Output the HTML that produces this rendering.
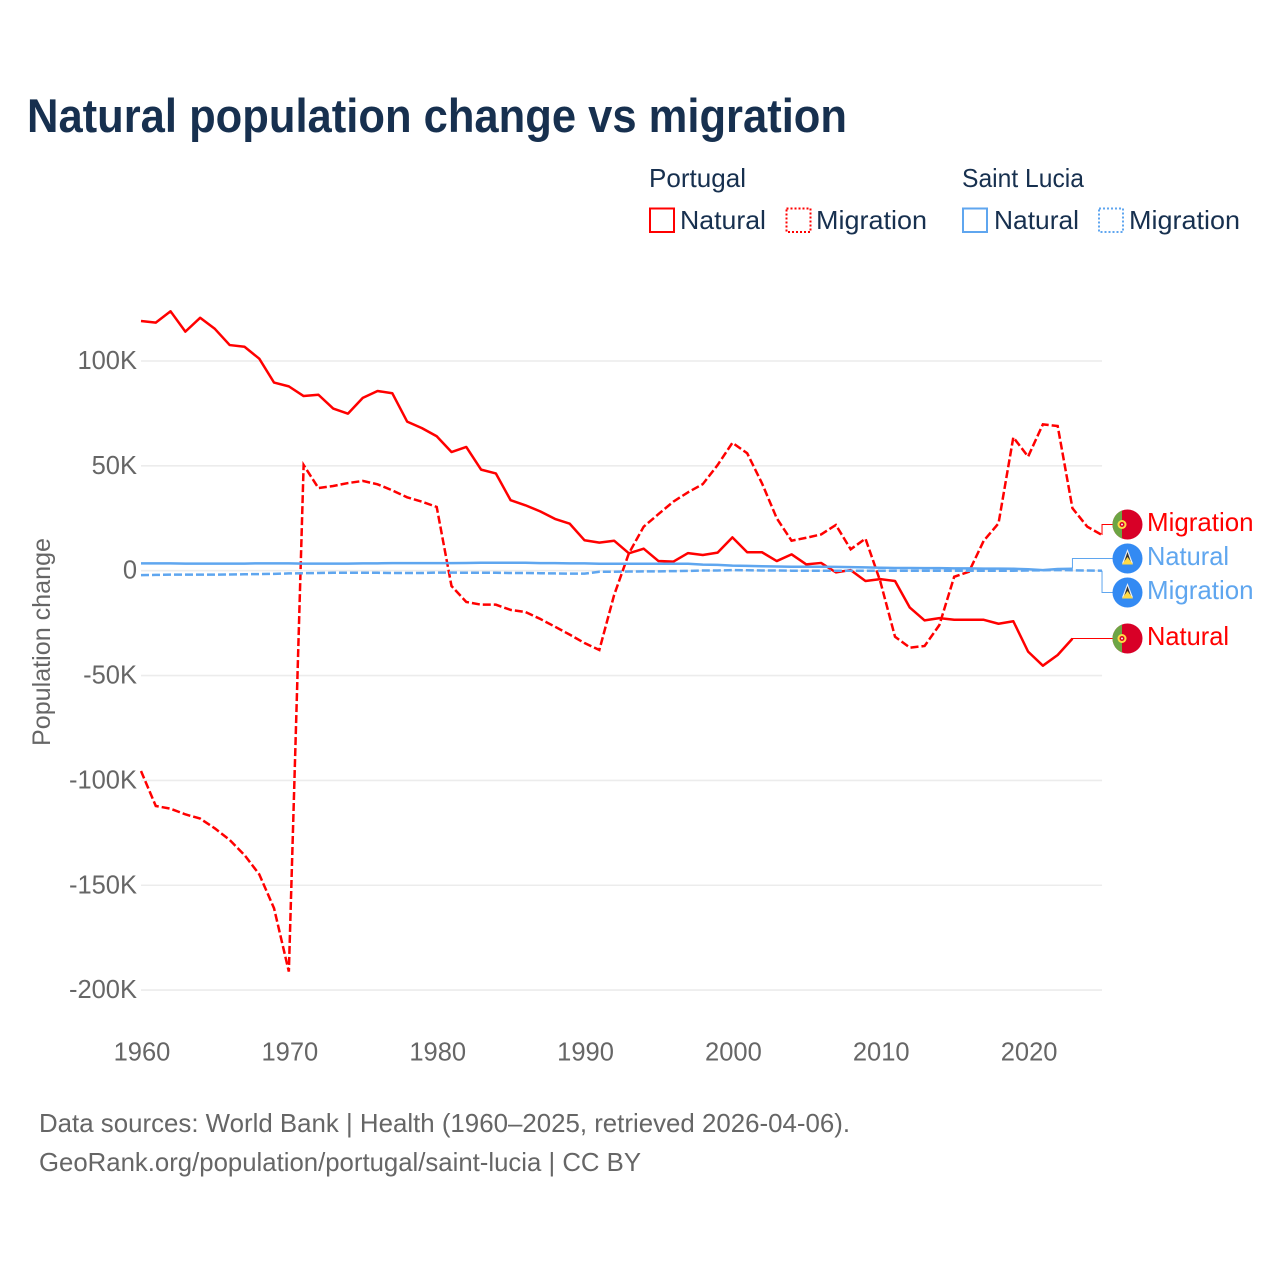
<!DOCTYPE html>
<html lang="en">
<head>
<meta charset="utf-8">
<title>Natural population change vs migration</title>
<style>
html,body{margin:0;padding:0;background:#fff;}
svg{display:block;font-family:"Liberation Sans",sans-serif;}
</style>
</head>
<body>
<svg id="chart" xmlns="http://www.w3.org/2000/svg" width="1280" height="1280" viewBox="0 0 1280 1280">
  <text x="27" y="132" font-size="47" font-weight="700" fill="#17304f" textLength="820" lengthAdjust="spacingAndGlyphs">Natural population change vs migration</text>

  <g font-size="26" fill="#17304f">
    <text x="649" y="187" textLength="97" lengthAdjust="spacingAndGlyphs">Portugal</text>
    <text x="962" y="187" textLength="122" lengthAdjust="spacingAndGlyphs">Saint Lucia</text>
    <g>
      <rect x="650" y="208.500" width="24" height="23.500" fill="none" stroke="#ff0000" stroke-width="2"/>
      <text x="680" y="229" textLength="86" lengthAdjust="spacingAndGlyphs">Natural</text>
    </g>
    <g>
      <rect x="786.500" y="208.500" width="24" height="23.500" fill="none" stroke="#ff0000" stroke-width="2" stroke-dasharray="2 2"/>
      <text x="816" y="229" textLength="111" lengthAdjust="spacingAndGlyphs">Migration</text>
    </g>
    <g>
      <rect x="963" y="208.500" width="24" height="23.500" fill="none" stroke="#5fa6ef" stroke-width="2"/>
      <text x="994" y="229" textLength="85" lengthAdjust="spacingAndGlyphs">Natural</text>
    </g>
    <g>
      <rect x="1099" y="208.500" width="24" height="23.500" fill="none" stroke="#5fa6ef" stroke-width="2" stroke-dasharray="2 2"/>
      <text x="1129" y="229" textLength="111" lengthAdjust="spacingAndGlyphs">Migration</text>
    </g>
  </g>

  <g id="grid"></g>
  <g id="yTicks" font-size="25.500" fill="#666666" text-anchor="end"></g>
  <g id="xTicks" font-size="25.500" fill="#666666" text-anchor="middle"></g>
  <text transform="translate(50 642) rotate(-90)" font-size="25" fill="#666666" text-anchor="middle" textLength="208" lengthAdjust="spacingAndGlyphs">Population change</text>

  <g id="series"></g>
  <g id="leaders"></g>

  <defs>
    <clipPath id="flag-clip-a"><circle cx="1127.500" cy="524.500" r="15"/></clipPath>
    <clipPath id="flag-clip-b"><circle cx="1127.500" cy="638.500" r="15"/></clipPath>
  </defs>

  <g>
    <circle cx="1127.500" cy="524.500" r="15" fill="#d80027"/>
    <rect x="1112" y="509" width="10" height="31" fill="#6da544" clip-path="url(#flag-clip-a)"/>
    <circle cx="1122" cy="524.500" r="4.500" fill="#ffda44"/>
    <circle cx="1122" cy="524.500" r="2.500" fill="#d80027"/>
    <circle cx="1122" cy="524.500" r="1" fill="#f0f0f0"/>
  </g>
  <g>
    <circle cx="1127.500" cy="558.500" r="15" fill="#338af3"/>
    <polygon points="1127.500,549 1133,563.500 1122,563.500" fill="#f0f0f0"/>
    <polygon points="1127.500,552 1131.500,563.500 1123.500,563.500" fill="#333333"/>
    <polygon points="1127.500,557 1133,564.500 1122,564.500" fill="#ffda44"/>
  </g>
  <g>
    <circle cx="1127.500" cy="592.500" r="15" fill="#338af3"/>
    <polygon points="1127.500,583 1133,597.500 1122,597.500" fill="#f0f0f0"/>
    <polygon points="1127.500,586 1131.500,597.500 1123.500,597.500" fill="#333333"/>
    <polygon points="1127.500,591 1133,598.500 1122,598.500" fill="#ffda44"/>
  </g>
  <g>
    <circle cx="1127.500" cy="638.500" r="15" fill="#d80027"/>
    <rect x="1112" y="623" width="10" height="31" fill="#6da544" clip-path="url(#flag-clip-b)"/>
    <circle cx="1122" cy="638.500" r="4.500" fill="#ffda44"/>
    <circle cx="1122" cy="638.500" r="2.500" fill="#d80027"/>
    <circle cx="1122" cy="638.500" r="1" fill="#f0f0f0"/>
  </g>

  <g font-size="26">
    <text x="1147" y="531" fill="#ff0000" textLength="106.500" lengthAdjust="spacingAndGlyphs">Migration</text>
    <text x="1147" y="565" fill="#5fa6ef" textLength="82" lengthAdjust="spacingAndGlyphs">Natural</text>
    <text x="1147" y="599" fill="#5fa6ef" textLength="106.500" lengthAdjust="spacingAndGlyphs">Migration</text>
    <text x="1147" y="645" fill="#ff0000" textLength="82" lengthAdjust="spacingAndGlyphs">Natural</text>
  </g>

  <g font-size="26" fill="#666666">
    <text x="39" y="1132" textLength="811" lengthAdjust="spacingAndGlyphs">Data sources: World Bank | Health (1960–2025, retrieved 2026-04-06).</text>
    <text x="39" y="1171" textLength="602" lengthAdjust="spacingAndGlyphs">GeoRank.org/population/portugal/saint-lucia | CC BY</text>
  </g>
</svg>
<script>
var startYear = 1960;
var xTickYears = [1960, 1970, 1980, 1990, 2000, 2010, 2020];
var yTickValues = [100, 50, 0, -50, -100, -150, -200];
var yTickLabels = ["100K", "50K", "0", "-50K", "-100K", "-150K", "-200K"];

var portugalNatural = [
  119.1, 118.3, 123.7, 114.0, 120.6, 115.3, 107.6, 106.8, 101.1, 89.7,
  87.9, 83.3, 83.9, 77.3, 74.9, 82.4, 85.7, 84.6, 71.1, 68.0,
  64.1, 56.6, 59.0, 48.2, 46.4, 33.6, 31.2, 28.3, 24.7, 22.4,
  14.5, 13.4, 14.3, 8.3, 10.5, 4.6, 4.3, 8.4, 7.5, 8.6,
  15.9, 8.8, 8.8, 4.6, 7.8, 3.0, 3.7, -0.8, 0.3, -4.9,
  -4.0, -4.9, -17.6, -23.7, -22.6, -23.4, -23.4, -23.4, -25.3, -24.1,
  -38.6, -45.3, -40.2, -32.4
];
var portugalMigration = [
  -95.5, -112.2, -113.5, -116.2, -118.2, -122.9, -128.4, -135.6, -144.8, -161.0,
  -191.2, 50.4, 39.4, 40.4, 41.8, 42.8, 41.2, 38.3, 35.0, 32.9,
  30.4, -7.3, -14.9, -16.2, -16.2, -18.7, -19.7, -23.0, -26.7, -30.5,
  -34.5, -37.8, -11.6, 8.3, 21.0, 27.0, 32.9, 37.4, 41.3, 50.4,
  61.0, 56.0, 41.7, 25.0, 14.3, 15.7, 17.3, 21.8, 10.2, 15.3,
  -5.0, -31.5, -36.7, -35.9, -25.9, -2.9, -0.5, 14.3, 22.6, 63.6,
  54.4, 69.8, 69.0, 29.8, 21.0, 17.0
];
var saintLuciaNatural = [
  3.5, 3.5, 3.5, 3.4, 3.4, 3.4, 3.4, 3.4, 3.5, 3.5,
  3.5, 3.4, 3.4, 3.4, 3.4, 3.5, 3.5, 3.6, 3.6, 3.6,
  3.6, 3.6, 3.7, 3.8, 3.8, 3.8, 3.8, 3.6, 3.6, 3.5,
  3.5, 3.3, 3.3, 3.3, 3.3, 3.3, 3.3, 3.3, 2.9, 2.8,
  2.4, 2.3, 2.1, 2.0, 1.9, 1.9, 1.9, 1.8, 1.7, 1.6,
  1.4, 1.3, 1.3, 1.2, 1.2, 1.1, 1.1, 1.0, 1.0, 0.9,
  0.7, 0.3, 0.8, 0.9
];
var saintLuciaMigration = [
  -2.1, -2.0, -1.9, -1.9, -1.9, -1.9, -1.8, -1.7, -1.6, -1.5,
  -1.3, -1.2, -1.1, -1.0, -1.0, -1.0, -1.0, -1.1, -1.1, -1.1,
  -0.9, -0.9, -1.0, -1.0, -1.0, -1.1, -1.1, -1.2, -1.3, -1.4,
  -1.4, -0.5, -0.5, -0.4, -0.3, -0.3, -0.2, -0.1, 0.1, 0.1,
  0.3, 0.2, 0.1, 0.1, 0.0, 0.0, 0.0, 0.0, 0.0, 0.0,
  0.0, 0.0, 0.0, 0.0, 0.0, 0.0, 0.0, 0.0, 0.0, 0.0,
  0.1, 0.2, 0.3, 0.2, 0.1, 0.0
];

var NS = 'http://www.w3.org/2000/svg';
var RED = '#ff0000';
var BLUE = '#5fa6ef';

function xScale(year) {
  return 141 + (year - 1960) * 14.785;
}
function yScale(value) {
  return 570.7 - value * 2.097;
}
function make(tag, attrs, parent) {
  var el = document.createElementNS(NS, tag);
  for (var key in attrs) {
    el.setAttribute(key, attrs[key]);
  }
  parent.appendChild(el);
  return el;
}
function linePoints(values) {
  return values.map(function (v, i) {
    return xScale(startYear + i).toFixed(2) + ',' + yScale(v).toFixed(2);
  }).join(' ');
}

var gridGroup = document.getElementById('grid');
var yTickGroup = document.getElementById('yTicks');
yTickValues.forEach(function (v, i) {
  var rule = make('line', { x1: xScale(1960), x2: xScale(2025), y1: yScale(v), y2: yScale(v), stroke: '#ececec', 'stroke-width': 1.6 }, gridGroup);
  
  
  var label = make('text', { x: 137, y: yScale(v) + 8 }, yTickGroup);
  
  
  label.textContent = yTickLabels[i];
});

var xTickGroup = document.getElementById('xTicks');
xTickYears.forEach(function (year) {
  var label = make('text', { x: xScale(year) + 1, y: 1060.5 }, xTickGroup);
  
  
  label.textContent = year;
});

var seriesGroup = document.getElementById('series');

var lineA = make('polyline', { points: linePoints(portugalNatural), fill: 'none', stroke: RED, 'stroke-width': 2.5, 'stroke-linejoin': 'round' }, seriesGroup);



var lineB = make('polyline', { points: linePoints(portugalMigration), fill: 'none', stroke: RED, 'stroke-width': 2.5, 'stroke-dasharray': '8 3' }, seriesGroup);



var lineC = make('polyline', { points: linePoints(saintLuciaNatural), fill: 'none', stroke: BLUE, 'stroke-width': 2.5, 'stroke-linejoin': 'round' }, seriesGroup);



var lineD = make('polyline', { points: linePoints(saintLuciaMigration), fill: 'none', stroke: BLUE, 'stroke-width': 2.5, 'stroke-dasharray': '8 3' }, seriesGroup);



function leaderPath(values, labelY) {
  var endX = xScale(startYear + values.length - 1);
  var endY = yScale(values[values.length - 1]);
  return 'M' + endX.toFixed(2) + ' ' + endY.toFixed(2) + 'V' + labelY + 'H1113';
}
var leaderGroup = document.getElementById('leaders');

var leaderA = make('path', { d: leaderPath(portugalNatural, 638.5), fill: 'none', stroke: RED, 'stroke-width': 1 }, leaderGroup);



var leaderB = make('path', { d: leaderPath(portugalMigration, 524.5), fill: 'none', stroke: RED, 'stroke-width': 1 }, leaderGroup);



var leaderC = make('path', { d: leaderPath(saintLuciaNatural, 558.5), fill: 'none', stroke: BLUE, 'stroke-width': 1 }, leaderGroup);



var leaderD = make('path', { d: leaderPath(saintLuciaMigration, 592.5), fill: 'none', stroke: BLUE, 'stroke-width': 1 }, leaderGroup);


</script>
</body>
</html>
